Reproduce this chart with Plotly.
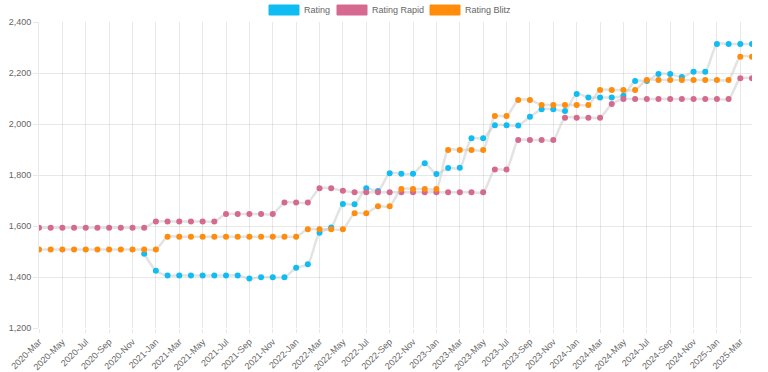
import plotly.graph_objects as go

months = []
_names = ["Jan", "Feb", "Mar", "Apr", "May", "Jun", "Jul", "Aug", "Sep", "Oct", "Nov", "Dec"]
for y in range(2020, 2026):
    for m in _names:
        months.append(f"{y}-{m}")
months = months[2:2 + 62]  # 2020-Mar .. 2025-Apr

rating = [None] * 9 + [
    1491, 1425, 1406, 1406, 1406, 1406, 1406, 1406, 1406, 1394,
    1399, 1399, 1399, 1436, 1450, 1574, 1594, 1686, 1685, 1748,
    1737, 1807, 1805, 1805, 1846, 1804, 1827, 1828, 1944, 1944,
    1995, 1995, 1994, 2028, 2058, 2058, 2051, 2118, 2104, 2104,
    2104, 2111, 2169, 2169, 2196, 2196, 2184, 2205, 2205, 2314,
    2314, 2314, 2314,
]
rating_rapid = [
    1593, 1593, 1593, 1593, 1593, 1593, 1593, 1593, 1593, 1593,
    1618, 1618, 1618, 1618, 1618, 1618, 1647, 1647, 1647, 1647,
    1647, 1692, 1692, 1692, 1748, 1748, 1738, 1732, 1732, 1732,
    1732, 1732, 1732, 1732, 1732, 1732, 1732, 1732, 1732, 1822,
    1822, 1937, 1937, 1937, 1937, 2025, 2025, 2025, 2025, 2078,
    2098, 2098, 2098, 2098, 2098, 2098, 2098, 2098, 2098, 2098,
    2179, 2179,
]
rating_blitz = [
    1508, 1508, 1508, 1508, 1508, 1508, 1508, 1508, 1508, 1508,
    1508, 1558, 1558, 1558, 1558, 1558, 1558, 1558, 1558, 1558,
    1558, 1558, 1558, 1587, 1587, 1587, 1587, 1650, 1650, 1677,
    1677, 1745, 1745, 1745, 1745, 1898, 1898, 1898, 1898, 2031,
    2031, 2094, 2094, 2075, 2075, 2075, 2075, 2075, 2133, 2133,
    2133, 2133, 2173, 2173, 2173, 2173, 2173, 2173, 2173, 2173,
    2264, 2264,
]

series_names = ["Rating", "Rating Rapid", "Rating Blitz"]
series_values = [rating, rating_rapid, rating_blitz]
series_colors = ["#0fbdf3", "#d6698f", "#ff8c0a"]

y_ticks = [1200, 1400, 1600, 1800, 2000, 2200, 2400]
x_ticks = months[::2]

W, H = 768, 372
ML, MR, MT, MB = 39, 16, 22, 44
PW, PH = W - ML - MR, H - MT - MB

def px_x(p):
    return (p - ML) / PW

def px_y(p):
    return (H - MB - p) / PH

fig = go.Figure()
for name, vals, col in zip(series_names, series_values, series_colors):
    fig.add_trace(go.Scatter(
        x=months, y=vals, mode="lines+markers", name=name, showlegend=False,
        line=dict(color="rgba(200,200,200,0.5)", width=2.5, shape="spline", smoothing=0.7),
        marker=dict(color=col, size=6),
    ))

# legend drawn as boxes + labels above the plot (Chart.js style)
legend_box_left = [269, 337, 430]
for name, col, bx in zip(series_names, series_colors, legend_box_left):
    fig.add_shape(type="rect", xref="paper", yref="paper",
                  x0=px_x(bx), x1=px_x(bx + 30), y0=px_y(15), y1=px_y(5),
                  fillcolor=col, line=dict(color=col, width=1), layer="above")
    fig.add_annotation(xref="paper", yref="paper", x=px_x(bx + 33), y=px_y(10),
                       xanchor="left", yanchor="middle", text=name, showarrow=False,
                       font=dict(size=9, color="#666"))

grid = "rgba(0,0,0,0.09)"
fig.update_layout(
    width=W, height=H,
    margin=dict(l=ML, r=MR, t=MT, b=MB),
    paper_bgcolor="white", plot_bgcolor="white",
    font=dict(family="Liberation Sans, Arial, sans-serif", size=9, color="#666"),
    showlegend=False,
    xaxis=dict(
        type="category", categoryorder="array", categoryarray=months,
        range=[0, len(months) - 1], tickmode="array", tickvals=x_ticks,
        tickangle=-45, showgrid=True, gridcolor=grid, gridwidth=1,
        ticks="outside", ticklen=4, tickcolor=grid, zeroline=False,
        showline=False, automargin=False,
    ),
    yaxis=dict(
        range=[1200, 2400], tickvals=y_ticks, tickformat=",",
        showgrid=True, gridcolor=grid, gridwidth=1, ticks="outside",
        ticklen=5, tickcolor=grid, zeroline=False, showline=True,
        linecolor=grid, automargin=False,
    ),
)

fig.write_html("out.html", config={"displayModeBar": False},
               post_script="document.body.style.margin='0';")
